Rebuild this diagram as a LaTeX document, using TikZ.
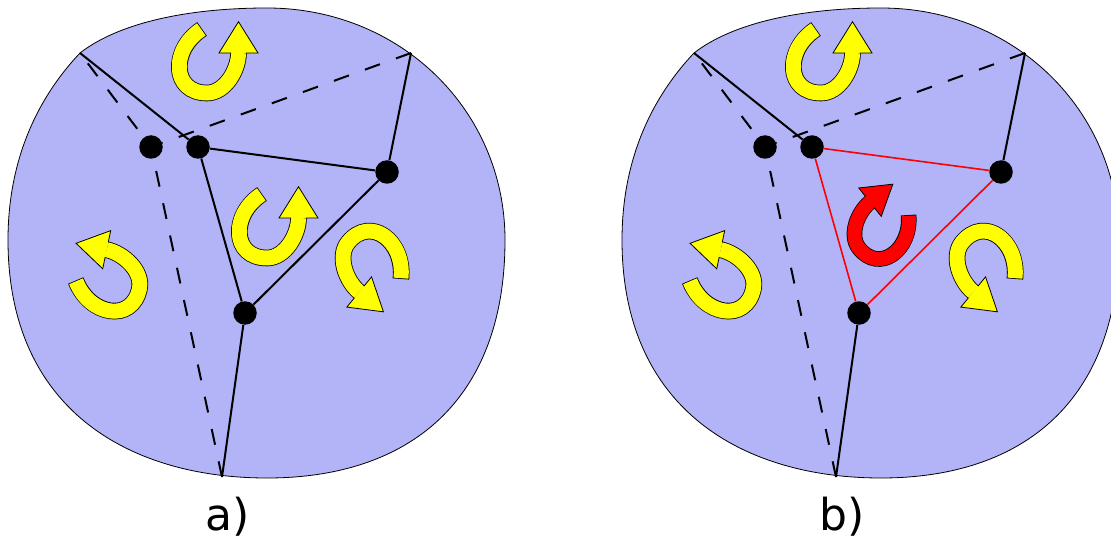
\documentclass[tikz,border=0pt]{standalone}
\usepackage{fontspec}
\newfontfamily\labelfont{DejaVu Sans}
\usetikzlibrary{calc}
\definecolor{blobblue}{RGB}{179,179,248}
\definecolor{curlyellow}{RGB}{255,255,0}
\definecolor{curlred}{RGB}{255,0,0}
% #1 colour, #2 shaft width, #3 half gap of the head base
\newcommand\curlarrow[3]{%
  \draw[black, line width=#2pt+1.6pt] (-36.5,-24) .. controls (-68.5,-3) and (-66.5,40) .. (-31.5,40) .. controls (-13.5,40) and (0,17) .. (0,0);
  \draw[#1, line width=#2pt, shorten <=0.8pt] (-36.5,-24) .. controls (-68.5,-3) and (-66.5,40) .. (-31.5,40) .. controls (-13.5,40) and (0,17) .. (0,0);
  \fill[#1] (-19.5,0) -- (0,-31.3) -- (19.5,0) -- cycle;
  \draw[black, line width=0.8pt, line join=miter] (-#3,0) -- (-19.5,0) -- (0,-31.3) -- (19.5,0) -- (#3,0);
}
\newcommand\blobshape{(267,8) .. controls (400,8) and (505,110) .. (505,240) .. controls (505,400) and (410,478) .. (267,478) .. controls (130,478) and (8,410) .. (8,240) .. controls (8,150) and (45,90) .. (80,53) .. controls (120,22) and (190,8) .. (267,8) -- cycle}
\begin{document}
\begin{tikzpicture}[x=1pt,y=-1pt,
  blob/.style={fill=blobblue, draw=black, line width=0.8pt},
  dot/.style={circle, fill=black, minimum size=23.5pt, inner sep=0pt},
  edgeline/.style={line width=2pt, black},
  hidden/.style={line width=2pt, black, dash=on 16pt off 17pt phase #1},
  hidden/.default=0pt,
  redge/.style={line width=1.6pt, curlred},
  lab/.style={font=\labelfont\fontsize{44}{48}\selectfont, anchor=base, inner sep=0pt}]
\useasboundingbox (0,0) rectangle (1111,540);

% ---------------- panel a ----------------
\draw[blob] \blobshape;
\coordinate (ac1) at (80,53);
\coordinate (ac2) at (411,53);
\coordinate (ac3) at (222,477);
\node[dot] (ad1) at (151,147) {};
\node[dot] (ad2) at (198,147) {};
\node[dot] (ad3) at (387,172) {};
\node[dot] (ad4) at (245,313) {};
\draw[hidden=20pt] (ac1) -- (ad1);
\draw[hidden] (ac2) -- (ad1);
\draw[hidden] (ac3) -- (ad1);
\draw[edgeline] (ac1) -- (ad2);
\draw[edgeline] (ac2) -- (ad3);
\draw[edgeline] (ac3) -- (ad4);
\draw[edgeline] (ad2) -- (ad3);
\draw[edgeline] (ad3) -- (ad4);
\draw[edgeline] (ad4) -- (ad2);
\begin{scope}[shift={(238.5,53)}]\curlarrow{curlyellow}{15}{7.5}\end{scope}
\begin{scope}[shift={(298.5,218)}]\curlarrow{curlyellow}{15}{7.5}\end{scope}
\begin{scope}[shift={(359.2,292)}, rotate=-129.3]\curlarrow{curlyellow}{15}{7.5}\end{scope}
\begin{scope}[shift={(106.7,249.7)}, rotate=78.2]\curlarrow{curlyellow}{15}{7.5}\end{scope}
\node[lab] (la) at (228,530) {a)};

% ---------------- panel b ----------------
\begin{scope}[shift={(614,0)}]
\draw[blob] \blobshape;
\end{scope}
\coordinate (bc1) at (694,53);
\coordinate (bc2) at (1025,53);
\coordinate (bc3) at (836,477);
\node[dot] (bd1) at (765,147) {};
\node[dot] (bd2) at (812,147) {};
\node[dot] (bd3) at (1001,172) {};
\node[dot] (bd4) at (859,313) {};
\draw[hidden=20pt] (bc1) -- (bd1);
\draw[hidden] (bc2) -- (bd1);
\draw[hidden] (bc3) -- (bd1);
\draw[edgeline] (bc1) -- (bd2);
\draw[edgeline] (bc2) -- (bd3);
\draw[edgeline] (bc3) -- (bd4);
\draw[redge] (bd2) -- (bd3);
\draw[redge] (bd3) -- (bd4);
\draw[redge] (bd4) -- (bd2);
\begin{scope}[shift={(852.5,53)}]\curlarrow{curlyellow}{15}{7.5}\end{scope}
\begin{scope}[shift={(973.2,292)}, rotate=-129.3]\curlarrow{curlyellow}{15}{7.5}\end{scope}
\begin{scope}[shift={(720.7,249.7)}, rotate=78.2]\curlarrow{curlyellow}{15}{7.5}\end{scope}
\begin{scope}[shift={(870,202.2)}, rotate=-51.7, xscale=-1, scale=0.93]\curlarrow{curlred}{14}{7.5}\end{scope}
\node[lab] (lb) at (842,530) {b)};
\end{tikzpicture}
\end{document}
